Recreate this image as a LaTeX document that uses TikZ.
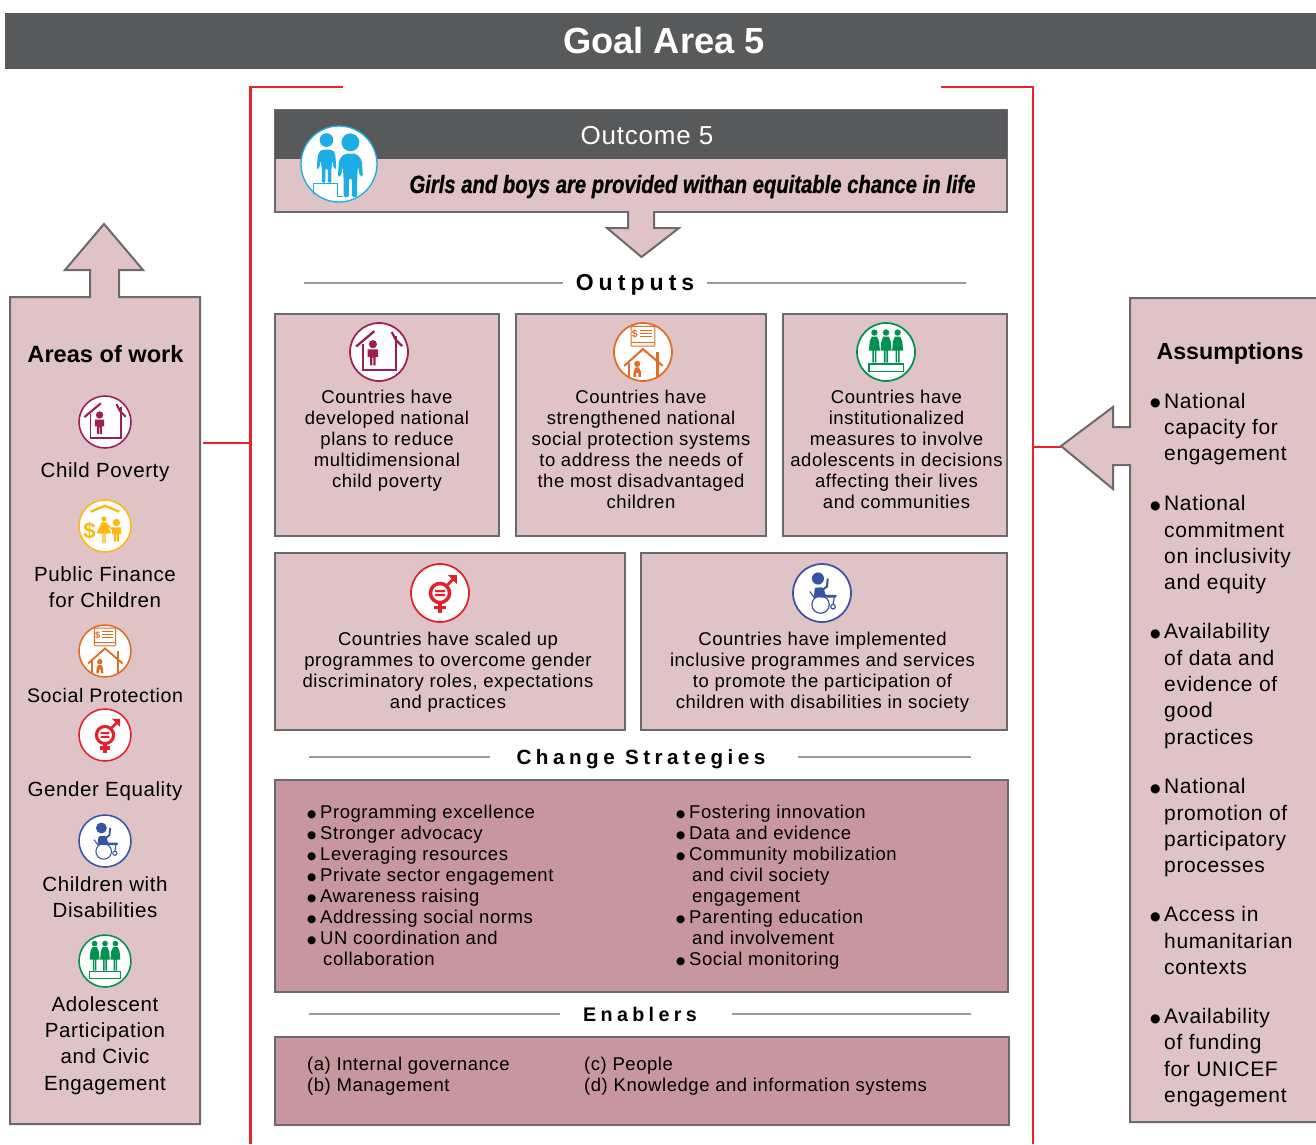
\documentclass[tikz,border=0pt]{standalone}
\usepackage{fontspec}
\setmainfont{Liberation Sans}
\newfontfamily\condfont[FakeStretch=0.81,FakeBold=0.8]{Liberation Sans}
\newfontfamily\spacedfont[LetterSpace=22]{Liberation Sans}
\newfontfamily\bodyfont[LetterSpace=3]{Liberation Sans}
\newfontfamily\dotfont{DejaVu Sans}
\definecolor{headgray}{HTML}{58595B}
\definecolor{pinkfill}{HTML}{E0C3C6}
\definecolor{rosefill}{HTML}{C7969F}
\definecolor{edgegray}{HTML}{6A6A6C}
\definecolor{rulegray}{HTML}{9A9A9C}
\definecolor{framered}{HTML}{E8232F}
\definecolor{icmaroon}{HTML}{9E1F4F}
\definecolor{icyellow}{HTML}{FDB913}
\definecolor{icorange}{HTML}{E36C25}
\definecolor{icred}{HTML}{E5202E}
\definecolor{icblue}{HTML}{3953A4}
\definecolor{icgreen}{HTML}{00924F}
\definecolor{iccyan}{HTML}{1CADE4}
\newcommand\kidfig[3]{\begin{scope}[shift={(#1,#2)},scale=#3]
  \fill (0,0) circle (.135);
  \fill (-.17,-.17)--(.17,-.17)--(.17,-.42)--(.09,-.42)--(.09,-.70)--(.015,-.70)--(.015,-.44)--(-.015,-.44)--(-.015,-.70)--(-.09,-.70)--(-.09,-.42)--(-.17,-.42)--cycle;
\end{scope}}
\newcommand\pearfig[3]{\begin{scope}[shift={(#1,#2)},scale=#3]
  \fill (0,0) circle (.17);
  \fill (-.1,-.2)--(.1,-.2)--(.2,-.42)--(.22,-.72)--(.06,-.72)--(.06,-.5)--(-.06,-.5)--(-.06,-.72)--(-.22,-.72)--(-.2,-.42)--cycle;
\end{scope}}
\newcommand\dressfig[3]{\begin{scope}[shift={(#1,#2)},scale=#3]
  \fill (0,0) circle (.11);
  \fill (-.09,-.14)--(.09,-.14)--(.16,-.3)--(.19,-.62)--(.07,-.62)--(.07,-1.04)--(.015,-1.04)--(.015,-.62)--(-.015,-.62)--(-.015,-1.04)--(-.07,-1.04)--(-.07,-.62)--(-.19,-.62)--(-.16,-.3)--cycle;
\end{scope}}
\newcommand\bul[1]{\makebox[13pt][l]{\raisebox{1pt}{\dotfont\fontsize{10.5}{10.5}\selectfont ●}}#1}
\newcommand\bulb[1]{\makebox[14pt][l]{\raisebox{1.3pt}{\dotfont\fontsize{12}{12}\selectfont ●}}#1}
\tikzset{
  x=1pt,y=-1pt,
  panel/.style={draw=edgegray,fill=pinkfill,line width=2pt,outer sep=0pt},
  rosepanel/.style={draw=edgegray,fill=rosefill,line width=2pt,outer sep=0pt},
  rulefine/.style={draw=rulegray,line width=1.6pt},
  redline/.style={draw=framered,line width=2.8pt},
  outtext/.style={align=center,inner sep=0pt,font=\bodyfont\fontsize{18.5}{21}\selectfont},
  sidetext/.style={align=center,inner sep=0pt,font=\bodyfont\fontsize{20.5}{26.3}\selectfont},
  sidehead/.style={inner sep=0pt,font=\fontsize{23.6}{28}\selectfont\bfseries},
  listtext/.style={align=left,anchor=west,inner sep=0pt,font=\bodyfont\fontsize{18.5}{21}\selectfont},
  asstext/.style={align=left,anchor=west,inner sep=0pt,font=\bodyfont\fontsize{21}{26.3}\selectfont},
  sechead/.style={inner sep=0pt,font=\fontsize{20.6}{24}\selectfont\spacedfont\bfseries},
  pics/iconpoverty/.style={code={
    \begin{scope}[xscale=#1,yscale=-#1,draw=icmaroon,fill=icmaroon]
      \draw[fill=white,line width=#1*.06pt] (0,0) circle (1);
      \draw[line width=#1*.07pt,fill=none] (-.56,.29)--(-.56,-.61)--(.6,-.61)--(.6,.56);
      \draw[line width=#1*.08pt,fill=none] (-.79,.19)--(-.16,.72);
      \draw[line width=#1*.08pt,fill=none] (.44,.69)--(.58,.42)--(.8,.2);
      \kidfig{-.21}{.27}{1.05}
    \end{scope}}},
  pics/iconfinance/.style={code={
    \pgfmathsetmacro\dsz{#1*.85}
    \begin{scope}[xscale=#1,yscale=-#1,draw=icyellow,fill=icyellow]
      \draw[fill=white,line width=#1*.06pt] (0,0) circle (1);
      \draw[line width=#1*.09pt,fill=none] (-.55,.55)--(0,.78)--(.55,.55);
      \node[inner sep=0pt,text=icyellow,font=\fontsize{\dsz}{\dsz}\selectfont\bfseries] at (-.6,-.2) {\$};
      \dressfig{-.04}{.27}{.9}
      \begin{scope}[shift={(-.04,.27)},scale=.9]
        \fill (-.09,-.14)--(.09,-.14)--(.32,-.62)--(-.32,-.62)--cycle;
        \draw[line width=#1*.05pt] (.09,-.2)--(.42,-.5);
      \end{scope}
      \kidfig{.44}{.13}{1.05}
    \end{scope}}},
  pics/iconsocial/.style={code={
    \pgfmathsetmacro\dsz{#1*.36}
    \begin{scope}[xscale=#1,yscale=-#1,draw=icorange,fill=icorange]
      \draw[fill=white,line width=#1*.06pt] (0,0) circle (1);
      \draw[line width=#1*.035pt,fill=none,rounded corners=1pt] (-.41,.88) rectangle (.41,.2);
      \draw[line width=#1*.06pt] (-.41,.33)--(.41,.33);
      \node[inner sep=0pt,text=icorange,font=\fontsize{\dsz}{\dsz}\selectfont\bfseries] at (-.28,.62) {\$};
      \draw[line width=#1*.035pt] (-.12,.74)--(.32,.74) (-.12,.63)--(.32,.63) (-.12,.52)--(.32,.52);
      \draw[line width=#1*.07pt,fill=none] (-.65,-.48)--(0,.1)--(.68,-.48);
      \draw[line width=#1*.07pt] (-.49,-.37)--(-.49,-.85) (.5,0)--(.5,-.85);
      \pearfig{-.2}{-.41}{.62}
    \end{scope}}},
  pics/icongender/.style={code={
    \begin{scope}[xscale=#1,yscale=-#1,draw=icred,fill=icred]
      \draw[fill=white,line width=#1*.06pt] (0,0) circle (1);
      \draw[line width=#1*.12pt,fill=none] (0,0) circle (.33);
      \fill (-.17,.11) rectangle (.17,.03) (-.17,-.03) rectangle (.17,-.11);
      \draw[line width=#1*.12pt] (0,-.36)--(0,-.68) (-.21,-.5)--(.21,-.5);
      \draw[line width=#1*.1pt] (.23,.25)--(.48,.5);
      \fill (.27,.62)--(.58,.62)--(.58,.31)--cycle;
    \end{scope}}},
  pics/icondisab/.style={code={
    \begin{scope}[xscale=#1,yscale=-#1,draw=icblue,fill=icblue]
      \draw[fill=white,line width=#1*.06pt] (0,0) circle (1);
      \fill (-.14,.5) circle (.21);
      \fill[rounded corners=1pt] (-.25,.18)--(.02,.2)--(.1,.05)--(.1,-.06)--(.5,-.06)--(.5,-.16)--(.05,-.16)--(-.28,-.14)--cycle;
      \draw[line width=#1*.07pt] (.0,.1)--(.17,.22)--(.2,.5);
      \draw[line width=#1*.04pt,fill=none] (-.05,-.4) circle (.3);
      \draw[line width=#1*.04pt,fill=none] (.38,-.47) circle (.08);
      \draw[line width=#1*.04pt] (-.42,.05)--(-.25,-.18) (.42,-.15)--(.38,-.4);
    \end{scope}}},
  pics/iconyouth/.style={code={
    \begin{scope}[xscale=#1,yscale=-#1,draw=icgreen,fill=icgreen]
      \draw[fill=white,line width=#1*.06pt] (0,0) circle (1);
      \dressfig{-.4}{.67}{1}
      \dressfig{0}{.67}{1}
      \dressfig{.4}{.67}{1}
      \draw[line width=#1*.06pt,fill=none] (-.59,-.41) rectangle (.6,-.67);
    \end{scope}}},
  pics/iconoutcome/.style={code={
    \begin{scope}[xscale=#1,yscale=-#1,draw=iccyan,fill=iccyan]
      \draw[fill=white,line width=#1*.035pt] (0,0) circle (1);
      \draw[line width=#1*.03pt,fill=none] (.1,-.85)--(-.03,-.85)--(-.03,-.52)--(-.66,-.52)--(-.66,-.78);
      \fill (-.33,.63) circle (.18);
      \fill[rounded corners=2pt] (-.46,.38)--(-.18,.38)--(-.1,.28)--(-.07,-.13)--(-.14,-.13)--(-.17,.1)--(-.2,-.1)--(-.2,-.5)--(-.29,-.5)--(-.29,-.12)--(-.36,-.12)--(-.36,-.5)--(-.45,-.5)--(-.45,-.1)--(-.49,.1)--(-.52,-.13)--(-.59,-.13)--(-.55,.28)--cycle;
      \fill (.3,.57) circle (.235);
      \fill[rounded corners=2pt] (.14,.27)--(.46,.27)--(.6,.1)--(.63,-.33)--(.55,-.33)--(.5,-.05)--(.48,-.35)--(.48,-.87)--(.34,-.87)--(.34,-.38)--(.26,-.38)--(.26,-.87)--(.12,-.87)--(.12,-.35)--(.1,-.05)--(.05,-.33)--(-.03,-.33)--(0,.1)--cycle;
    \end{scope}}}
}
\begin{document}
\begin{tikzpicture}
\useasboundingbox (0,0) rectangle (1316,1144);
% title
\node[fill=headgray,draw=none,outer sep=0pt,minimum width=1311pt,minimum height=56pt,inner sep=0pt,anchor=north west] (title) at (5,13) {};
\node[text=white,inner sep=0pt,font=\fontsize{36.3}{40}\selectfont\bfseries] (titletext) at (664,40.5) {Goal Area 5};
% red frame
\coordinate (ftla) at (343,87); \coordinate (ftl) at (250.5,87); \coordinate (fbl) at (250.5,1144);
\coordinate (ftra) at (941,87); \coordinate (ftr) at (1033,87); \coordinate (fbr) at (1033,1144);
\draw[redline] (ftla) -- (ftl) -- (fbl);
\draw[redline] (ftra) -- (ftr) -- (fbr);
\coordinate (areaslink) at (203,443); \coordinate (areaframe) at (250,443);
\coordinate (asslink) at (1061,447); \coordinate (assframe) at (1033,447);
\draw[redline] (areaslink) -- (areaframe);
\draw[redline] (assframe) -- (asslink);
% outcome
\node[panel,anchor=north west,minimum width=732pt,minimum height=102pt,inner sep=0pt] (outcome) at (275,110) {};
\node[fill=headgray,outer sep=0pt,anchor=north west,minimum width=732pt,minimum height=49pt,inner sep=0pt] (outcomehead) at (275,110) {};
\node[text=white,inner sep=0pt,font=\bodyfont\fontsize{26}{30}\selectfont] (outcometext) at (647,136) {Outcome 5};
\node[inner sep=0pt,font=\fontsize{25}{28}\selectfont\condfont\bfseries\itshape] (outcomesub) at (692.5,186.5) {Girls and boys are provided withan equitable chance in life};
\pic at (339,164) {iconoutcome=38};
% down arrow
\draw[panel] (628,211)--(628,228)--(607,228)--(641.5,257)--(679,228)--(654,228)--(654,211);
% outputs head
\node[inner sep=0pt,font=\fontsize{23}{28}\selectfont\spacedfont\bfseries] (outputs) at (635,285) {Outputs};
\coordinate (outla) at (304,283); \coordinate (outlb) at (563,283); \coordinate (outra) at (707,283); \coordinate (outrb) at (966,283);
\draw[rulefine] (outla)--(outlb); \draw[rulefine] (outra)--(outrb);
% output boxes
\node[panel,anchor=north west,minimum width=224pt,minimum height=222pt,inner sep=0pt] (boxa) at (275,314) {};
\node[panel,anchor=north west,minimum width=250pt,minimum height=222pt,inner sep=0pt] (boxb) at (516,314) {};
\node[panel,anchor=north west,minimum width=224pt,minimum height=222pt,inner sep=0pt] (boxc) at (783,314) {};
\node[panel,anchor=north west,minimum width=350pt,minimum height=177pt,inner sep=0pt] (boxd) at (275,553) {};
\node[panel,anchor=north west,minimum width=366pt,minimum height=177pt,inner sep=0pt] (boxe) at (641,553) {};
\pic at (379,352) {iconpoverty=29};
\pic at (643,352) {iconsocial=29};
\pic at (886,352) {iconyouth=29};
\pic at (440,593) {icongender=29};
\pic at (822,593) {icondisab=29};
\node[outtext] (ta) at (387,441) {Countries have\\developed national\\plans to reduce\\multidimensional\\child poverty};
\node[outtext] (tb) at (641,449.5) {Countries have\\strengthened national\\social protection systems\\to address the needs of\\the most disadvantaged\\children};
\node[outtext] (tc) at (896.5,449.5) {Countries have\\institutionalized\\measures to involve\\adolescents in decisions\\affecting their lives\\and communities};
\node[outtext] (td) at (448,672.5) {Countries have scaled up\\programmes to overcome gender\\discriminatory roles, expectations\\and practices};
\node[outtext] (te) at (822.5,672.5) {Countries have implemented\\inclusive programmes and services\\to promote the participation of\\children with disabilities in society};
% change strategies
\node[sechead] (change) at (641,759) {Change Strategies};
\coordinate (chla) at (309,757); \coordinate (chlb) at (490,757); \coordinate (chra) at (798,757); \coordinate (chrb) at (971,757);
\draw[rulefine] (chla)--(chlb); \draw[rulefine] (chra)--(chrb);
\node[rosepanel,anchor=north west,minimum width=733pt,minimum height=212pt,inner sep=0pt] (chbox) at (275,780) {};
\node[listtext] (chl) at (307,885.5) {\bul{Programming excellence}\\\bul{Stronger advocacy}\\\bul{Leveraging resources}\\\bul{Private sector engagement}\\\bul{Awareness raising}\\\bul{Addressing social norms}\\\bul{UN coordination and}\\\hspace*{16pt}collaboration};
\node[listtext] (chr) at (676,887.5) {\bul{Fostering innovation}\\\bul{Data and evidence}\\\bul{Community mobilization}\\\hspace*{16pt}and civil society\\\hspace*{16pt}engagement\\\bul{Parenting education}\\\hspace*{16pt}and involvement\\\bul{Social monitoring}};
% enablers
\node[sechead,font=\fontsize{19.7}{24}\selectfont\spacedfont\bfseries] (enablers) at (640,1014) {Enablers};
\coordinate (enla) at (309,1014); \coordinate (enlb) at (560,1014); \coordinate (enra) at (732,1014); \coordinate (enrb) at (971,1014);
\draw[rulefine] (enla)--(enlb); \draw[rulefine] (enra)--(enrb);
\node[rosepanel,anchor=north west,minimum width=734pt,minimum height=88pt,inner sep=0pt] (enbox) at (275,1037) {};
\node[listtext] (enl) at (307,1076.5) {(a) Internal governance\\(b) Management};
\node[listtext] (enr) at (584,1076.5) {(c) People\\(d) Knowledge and information systems};
% areas of work
\draw[panel] (10,1124)--(10,297)--(90,297)--(90,270)--(65,270)--(104,224)--(143,270)--(119,270)--(119,297)--(200,297)--(200,1124)--cycle;
\node[sidehead] (areas) at (105.5,354) {Areas of work};
\pic at (105,422) {iconpoverty=26};
\pic at (105,526) {iconfinance=26};
\pic at (105,651) {iconsocial=26};
\pic at (105,735) {icongender=26};
\pic at (105,841) {icondisab=26};
\pic at (105,961) {iconyouth=26};
\node[sidetext] (sa) at (105,472) {Child Poverty};
\node[sidetext] (sb) at (105,587.5) {Public Finance\\for Children};
\node[sidetext,font=\bodyfont\fontsize{19.6}{26.3}\selectfont] (sc) at (105,695) {Social Protection};
\node[sidetext] (sd) at (105,791) {Gender Equality};
\node[sidetext] (se) at (105,897) {Children with\\Disabilities};
\node[sidetext] (sf) at (105,1045.5) {Adolescent\\Participation\\and Civic\\Engagement};
% assumptions
\draw[panel] (1318,298)--(1130,298)--(1130,427)--(1113,427)--(1113,407)--(1061,446)--(1113,489)--(1113,465)--(1130,465)--(1130,1122)--(1318,1122);
\node[sidehead,font=\fontsize{23.2}{28}\selectfont\bfseries] (assume) at (1230,353) {Assumptions};
\node[asstext] (a1) at (1150,429) {\bulb{National}\\\hspace*{14pt}capacity for\\\hspace*{14pt}engagement};
\node[asstext] (a2) at (1150,545) {\bulb{National}\\\hspace*{14pt}commitment\\\hspace*{14pt}on inclusivity\\\hspace*{14pt}and equity};
\node[asstext] (a3) at (1150,686) {\bulb{Availability}\\\hspace*{14pt}of data and\\\hspace*{14pt}evidence of\\\hspace*{14pt}good\\\hspace*{14pt}practices};
\node[asstext] (a4) at (1150,828) {\bulb{National}\\\hspace*{14pt}promotion of\\\hspace*{14pt}participatory\\\hspace*{14pt}processes};
\node[asstext] (a5) at (1150,940.5) {\bulb{Access in}\\\hspace*{14pt}humanitarian\\\hspace*{14pt}contexts};
\node[asstext] (a6) at (1150,1057.5) {\bulb{Availability}\\\hspace*{14pt}of funding\\\hspace*{14pt}for UNICEF\\\hspace*{14pt}engagement};
\end{tikzpicture}
\end{document}
